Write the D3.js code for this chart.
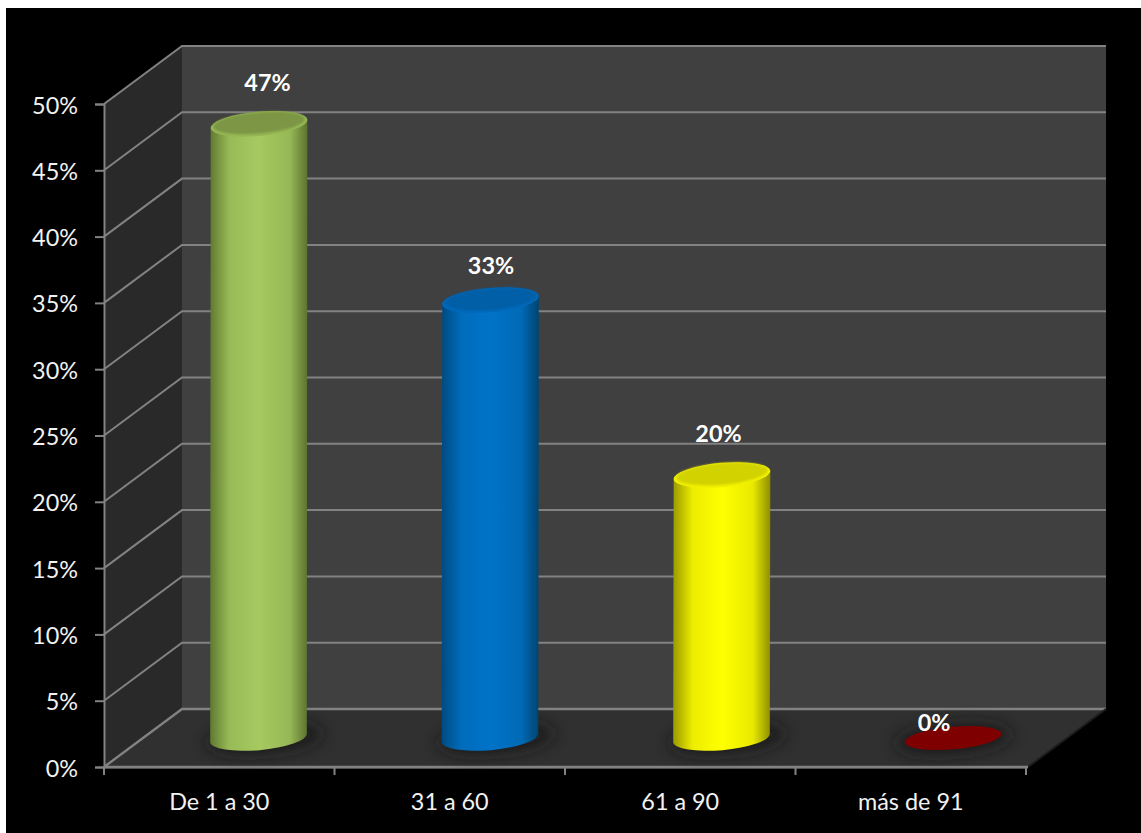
<!DOCTYPE html>
<html>
<head>
<meta charset="utf-8">
<script src="https://cdnjs.cloudflare.com/ajax/libs/d3/7.8.5/d3.min.js"></script>
<style>
html,body{margin:0;padding:0;background:#fff;overflow:hidden}
svg{display:block}
text{font-family:Lato,"Open Sans",sans-serif}
</style>
</head>
<body>
<svg id="c" width="1141" height="833"></svg>
<script>
const categories = ["De 1 a 30", "31 a 60", "61 a 90", "más de 91"];
const values = [46.7, 33.3, 20, 0];
const yTicks = [0, 5, 10, 15, 20, 25, 30, 35, 40, 45, 50];
const bodyColors = [["#5f7a30","#a6c960","#5c7330"],["#004a80","#0073c8","#004470"],["#9a9a00","#ffff00","#8f8f00"],["#7f0000","#7f0000","#7f0000"]];
const capColors = [["#7c9644","#97b955"],["#005ea6","#0069bc"],["#d2d200","#f2f200"],["#7f0000","#7f0000"]];

const svg = d3.select("#c");
const defs = svg.append("defs");
const W = 1141, H = 833;
svg.append("rect").attr("x",6).attr("y",8).attr("width",W-6).attr("height",H-8).attr("fill","#000");

// frame geometry
const dx = 78, dy = -58;
const y = d3.scaleLinear().domain([0,50]).range([767,104]);
const xFront = d3.scaleBand().domain(categories).range([104,1026]).paddingInner(0).paddingOuter(0);
const xBar = d3.scaleBand().domain(categories).range([142.75,1068.75]);
// bars stand midway in the depth of the box
const yBar = d3.scaleLinear().domain([0,50]).range([738,80.5]);

// walls
const x0=104, x1=1028, yb=y(0), yt=y(50);
const poly = (pts,fill)=>svg.append("polygon").attr("points",pts.map(p=>p.join(",")).join(" ")).attr("fill",fill);
poly([[x0+dx,yt+dy],[x1+dx,yt+dy],[x1+dx,yb+dy],[x0+dx,yb+dy]],"#404040");
poly([[x0,yt],[x0+dx,yt+dy],[x0+dx,yb+dy],[x0,yb]],"#292929");
poly([[x0,yb],[x0+dx,yb+dy],[x1+dx,yb+dy],[x1,yb]],"#303030");

// gridlines
const grid = svg.append("g").attr("stroke","#828282").attr("fill","none");
grid.selectAll("path.g").data(yTicks).join("path").attr("class","g")
  .attr("stroke-width",d=>d===0?2.4:2)
  .attr("d",d=>`M${x0},${y(d)}L${x0+dx},${y(d)+dy}L${x1+dx},${y(d)+dy}`);
grid.append("path").attr("stroke-width",2).attr("d",`M${x1+dx},${yb+dy}L${x1},${yb}`).attr("stroke","#1c1c1c");
grid.append("path").attr("stroke-width",2.4).attr("d",`M${x0},${yb}L${x1},${yb}`);

// axes
const gy = svg.append("g").attr("transform",`translate(${x0},0)`)
  .call(d3.axisLeft(y).tickValues(yTicks).tickSize(9).tickPadding(17).tickFormat(d=>d+"%"));
const gx = svg.append("g").attr("transform",`translate(0,${yb})`)
  .call(d3.axisBottom(xFront).tickSize(0).tickPadding(26));
gx.selectAll(".tick").attr("transform",d=>`translate(${xFront(d)+xFront.bandwidth()/2},0)`);
gx.append("g").selectAll("line").data(d3.range(categories.length+1)).join("line")
  .attr("x1",i=>x0+i*xFront.step()).attr("x2",i=>x0+i*xFront.step()).attr("y1",0).attr("y2",8)
  .attr("stroke","#828282").attr("stroke-width",2);
[gy,gx].forEach(g=>{
  g.selectAll(".domain,.tick line").attr("stroke","#828282").attr("stroke-width",2);
  g.selectAll("text").attr("fill","#f2f2f2").attr("font-size",23.4);
});
gy.selectAll("text").attr("transform","translate(0,1.5)");

// filters
const blur = (id,s)=>defs.append("filter").attr("id",id).attr("x","-50%").attr("y","-200%").attr("width","200%").attr("height","500%")
  .append("feGaussianBlur").attr("stdDeviation",s);
blur("sh",8); blur("soft",1.2);

// cylinders
const rx = 48.5, ry = 12.2, rot = -5;
const rad = rot*Math.PI/180;
const ex = rx*Math.cos(rad), ey = rx*Math.sin(rad);
const bars = svg.append("g");
categories.forEach((c,i)=>{
  const cx = xBar(c)+xBar.bandwidth()/2, v = values[i];
  const yTop = yBar(v), yBot = yBar(0);
  const cxTop = cx + 0.5;
  const g = bars.append("g");
  g.append("ellipse").attr("cx",cx+(v>0?6:0)).attr("cy",yBot+1).attr("rx",rx+10).attr("ry",ry+3)
    .attr("transform",`rotate(${rot} ${cx} ${yBot})`).attr("fill","#141414").attr("opacity",.75).attr("filter","url(#sh)");
  if(v>0){
    const gid = "body"+i;
    const lg = defs.append("linearGradient").attr("id",gid);
    const cs = bodyColors[i];
    [[0,cs[0]],[.2,d3.interpolateRgb(cs[0],cs[1])(.82)],[.5,cs[1]],[.82,d3.interpolateRgb(cs[2],cs[1])(.8)],[1,cs[2]]]
      .forEach(s=>lg.append("stop").attr("offset",s[0]).attr("stop-color",s[1]));
    g.append("path").attr("fill",`url(#${gid})`)
      .attr("d",`M${cxTop-ex},${yTop-ey}L${cx-ex},${yBot-ey}A${rx},${ry} ${rot} 0 0 ${cx+ex},${yBot+ey}L${cxTop+ex},${yTop+ey}Z`);
    g.append("ellipse").attr("cx",cxTop).attr("cy",yTop).attr("rx",rx).attr("ry",ry)
      .attr("transform",`rotate(${rot} ${cxTop} ${yTop})`).attr("fill",capColors[i][1]);
    g.append("ellipse").attr("cx",cxTop).attr("cy",yTop-1).attr("rx",rx-2.5).attr("ry",ry-1.5)
      .attr("transform",`rotate(${rot} ${cxTop} ${yTop-1})`).attr("fill",capColors[i][0]).attr("filter","url(#soft)");
  } else {
    g.append("ellipse").attr("cx",cx).attr("cy",yBot).attr("rx",rx).attr("ry",ry-1)
      .attr("transform",`rotate(${rot} ${cx} ${yBot})`).attr("fill",capColors[i][0]);
  }
});

// value labels, placed by hand in the original
const labelShift = [[9,-41.5],[1,-34],[-3,-41],[-19,-15]];
svg.append("g").selectAll("text").data(values).join("text")
  .attr("x",(d,i)=>xBar(categories[i])+xBar.bandwidth()/2+labelShift[i][0])
  .attr("y",(d,i)=>yBar(d)+labelShift[i][1])
  .attr("dy","0.35em").attr("text-anchor","middle")
  .attr("fill","#fff").attr("font-weight",700).attr("font-size",23.4)
  .text(d=>d3.format(".0f")(d)+"%");
</script>
</body>
</html>
